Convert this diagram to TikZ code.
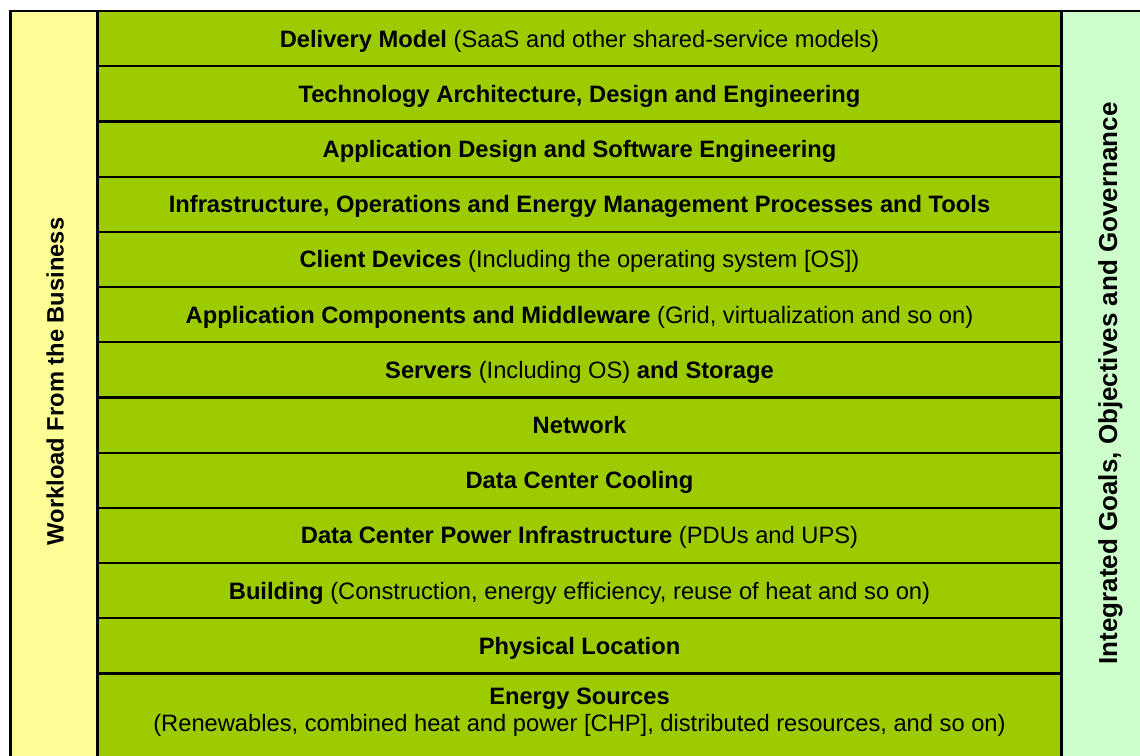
\documentclass[tikz,border=0pt]{standalone}
\usepackage{fontspec}
\setmainfont{Liberation Sans}
\definecolor{rowgreen}{HTML}{9CCC00}
\definecolor{leftyellow}{HTML}{FDFD96}
\definecolor{rightgreen}{HTML}{CCFFCC}
\begin{document}
\begin{tikzpicture}[x=1pt,y=-1pt,
  lbl/.style={font=\fontsize{23.7}{27}\selectfont, text=black, inner sep=0pt, anchor=base},
  cell/.style={draw=black, line width=2.2pt}]
\useasboundingbox (0,0) rectangle (1140,755);
\clip (0,0) rectangle (1140,755);
% side columns
\path[cell, fill=leftyellow] (10.5,11) rectangle (97.5,780);
\path[cell, fill=rightgreen] (1061.5,11) rectangle (1160,780);
% rows
\foreach \i in {0,...,11}
  \path[cell, fill=rowgreen] (97.5,{11+55.2*\i}) rectangle (1061.5,{11+55.2*(\i+1)});
\path[cell, fill=rowgreen] (97.5,{11+55.2*12}) rectangle (1061.5,780);
% row labels
\foreach \i/\t in {
  0/{\textbf{Delivery Model} (SaaS and other shared-service models)},
  1/{\textbf{Technology Architecture, Design and Engineering}},
  2/{\textbf{Application Design and Software Engineering}},
  3/{\textbf{Infrastructure, Operations and Energy Management Processes and Tools}},
  4/{\textbf{Client Devices} (Including the operating system [OS])},
  5/{\textbf{Application Components and Middleware} (Grid, virtualization and so on)},
  6/{\textbf{Servers} (Including OS) \textbf{and Storage}},
  7/{\textbf{Network}},
  8/{\textbf{Data Center Cooling}},
  9/{\textbf{Data Center Power Infrastructure} (PDUs and UPS)},
  10/{\textbf{Building} (Construction, energy efficiency, reuse of heat and so on)},
  11/{\textbf{Physical Location}}}
  \node[lbl] (r\i) at (579.5,{11+55.2*(\i+0.5)+8.5}) {\t};
\node[lbl] (r12a) at (579.5,704) {\textbf{Energy Sources}};
\node[lbl] (r12b) at (579.5,731) {(Renewables, combined heat and power [CHP], distributed resources, and so on)};
% side labels
\node[lbl, rotate=90] (left) at (63.5,381.5) {\textbf{Workload From the Business}};
\node[lbl, rotate=90, font=\fontsize{26}{30}\selectfont] (right) at (1117,383.5) {\textbf{Integrated Goals, Objectives and Governance}};
\end{tikzpicture}
\end{document}
